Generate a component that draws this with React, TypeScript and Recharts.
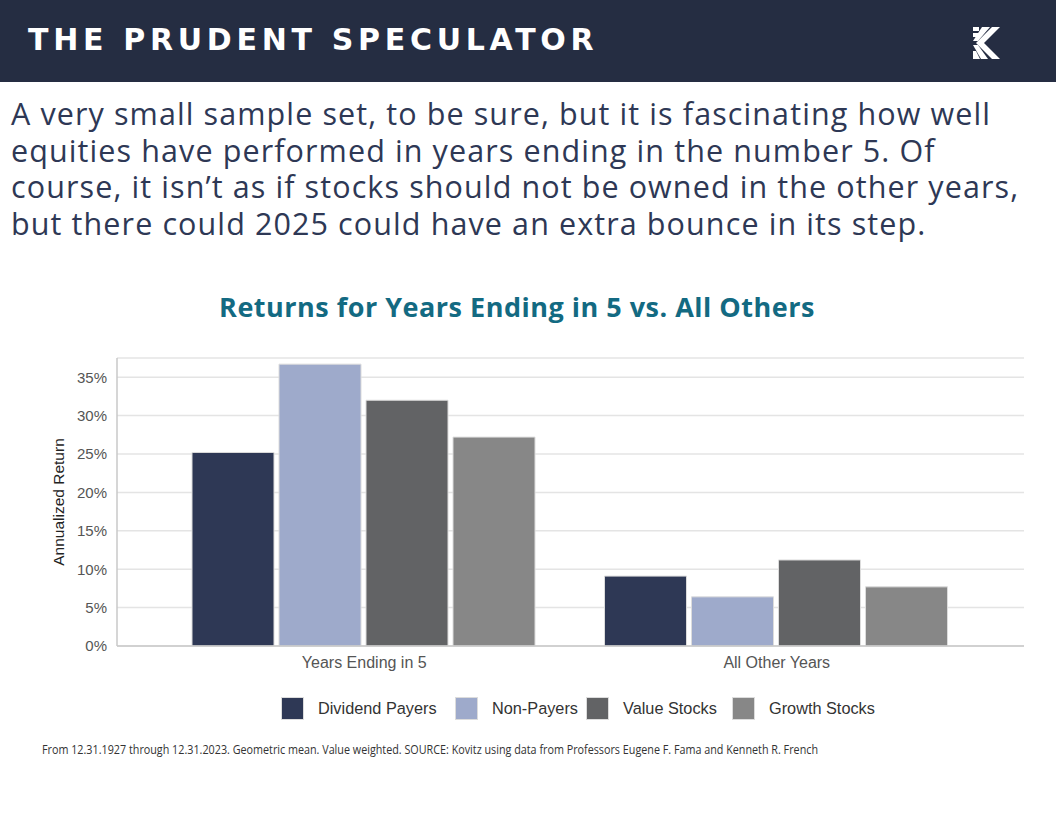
import React from 'react';
import { BarChart, Bar, XAxis, YAxis, CartesianGrid } from 'recharts';

const categories = ['Years Ending in 5', 'All Other Years'];
const dividendPayers = [25.2, 9.1];
const nonPayers = [36.7, 6.4];
const valueStocks = [32.0, 11.2];
const growthStocks = [27.2, 7.7];
const yTicks = [0, 5, 10, 15, 20, 25, 30, 35];

const seriesNames = ['Dividend Payers', 'Non-Payers', 'Value Stocks', 'Growth Stocks'];
const seriesKeys = ['div', 'non', 'val', 'gro'];
const seriesColors = ['#2e3855', '#9eaacb', '#626365', '#878787'];

const paragraphLines = [
  'A very small sample set, to be sure, but it is fascinating how well',
  'equities have performed in years ending in the number 5. Of',
  'course, it isn\u2019t as if stocks should not be owned in the other years,',
  'but there could 2025 could have an extra bounce in its step.',
];

const data = categories.map((c, i) => ({
  name: c,
  div: dividendPayers[i],
  non: nonPayers[i],
  val: valueStocks[i],
  gro: growthStocks[i],
}));

const legendX = [281, 455, 586, 732];

export default function App() {
  return (
    <div style={{ position: 'absolute', left: 0, top: 0, width: 1056, height: 816, background: '#ffffff', overflow: 'hidden' }}>
      <div style={{ position: 'absolute', left: 0, top: 0, width: 1056, height: 82, background: '#252d42' }} />
      <div style={{ position: 'absolute', left: 28, top: 22, fontFamily: 'DejaVu Sans', fontWeight: 700, fontSize: 30, letterSpacing: 4.7, color: '#ffffff', lineHeight: '36px', whiteSpace: 'nowrap' }}>
        THE PRUDENT SPECULATOR
      </div>
      <svg style={{ position: 'absolute', left: 970, top: 25 }} width={36} height={38} viewBox="0 0 36 38">
        <polygon points="3,2 9,2 9,6 3,6" fill="#fff" />
        <polygon points="3,8 9,8 9,12 3,12" fill="#fff" />
        <polygon points="12,2 20,2 8,16 3,16" fill="#fff" />
        <polygon points="22,2 30,2 14,18 30,34 22,34 6,18" fill="#fff" />
        <polygon points="3,20 8,20 18,34 11,34" fill="#fff" />
        <polygon points="3,26 6,26 10,34 3,34" fill="#fff" />
      </svg>
      {paragraphLines.map((l, i) => (
        <div key={i} style={{ position: 'absolute', left: 11, top: 95 + i * 36.7, fontFamily: 'Open Sans', fontSize: 30.5, color: '#2e3855', lineHeight: '36px', whiteSpace: 'nowrap', letterSpacing: 1.1 }}>
          {l}
        </div>
      ))}
      <div style={{ position: 'absolute', left: 0, width: 1034, top: 289, textAlign: 'center', fontFamily: 'Open Sans', fontWeight: 700, fontSize: 27, letterSpacing: 0.5, color: '#136a82', lineHeight: '36px', whiteSpace: 'nowrap' }}>
        Returns for Years Ending in 5 vs. All Others
      </div>
      <div style={{ position: 'absolute', left: 0, top: 0 }}>
        <BarChart
          width={1056}
          height={816}
          data={data}
          margin={{ top: 358, right: 32, bottom: 140, left: 0 }}
          barCategoryGap={34}
          barGap={5}
        >
          <CartesianGrid vertical={false} stroke="#e4e4e4" strokeWidth={1.5} />
          <XAxis
            dataKey="name"
            height={30}
            padding={{ left: 41, right: 41 }}
            axisLine={{ stroke: '#c8c8c8', strokeWidth: 1.5 }}
            tickLine={false}
            tick={{ fill: '#555555', fontSize: 16, fontFamily: 'Liberation Sans' }}
            tickMargin={5}
          />
          <YAxis
            width={117}
            domain={[0, 37.5]}
            ticks={yTicks}
            interval={0}
            tickFormatter={(v: number) => `${v}%`}
            axisLine={{ stroke: '#c8c8c8', strokeWidth: 1.5 }}
            tickLine={false}
            tick={{ fill: '#555555', fontSize: 15, fontFamily: 'Liberation Sans' }}
            tickMargin={4}
            label={{ value: 'Annualized Return', angle: -90, position: 'insideLeft', offset: 58, style: { fill: '#222222', fontSize: 15.5, fontFamily: 'Liberation Sans', textAnchor: 'middle' } }}
          />
          {seriesKeys.map((k, i) => (
            <Bar key={k} dataKey={k} name={seriesNames[i]} fill={seriesColors[i]} stroke="#dcdcdc" strokeWidth={1} isAnimationActive={false} />
          ))}
        </BarChart>
      </div>
      {seriesNames.map((n, i) => (
        <div key={n} style={{ position: 'absolute', left: legendX[i], top: 697, height: 23, display: 'flex', alignItems: 'center', whiteSpace: 'nowrap' }}>
          <div style={{ width: 23, height: 23, background: seriesColors[i], boxSizing: 'border-box', border: '1px solid #dcdcdc' }} />
          <span style={{ marginLeft: 14, fontFamily: 'Liberation Sans', fontSize: 16.3, color: '#333333' }}>{n}</span>
        </div>
      ))}
      <svg style={{ position: 'absolute', left: 0, top: 738 }} width={1056} height={24}>
        <text x={42} y={16} textLength={776} lengthAdjust="spacingAndGlyphs" fontFamily="Open Sans" fontSize={13.5} fill="#333333">
          From 12.31.1927 through 12.31.2023. Geometric mean. Value weighted. SOURCE: Kovitz using data from Professors Eugene F. Fama and Kenneth R. French
        </text>
      </svg>
    </div>
  );
}
